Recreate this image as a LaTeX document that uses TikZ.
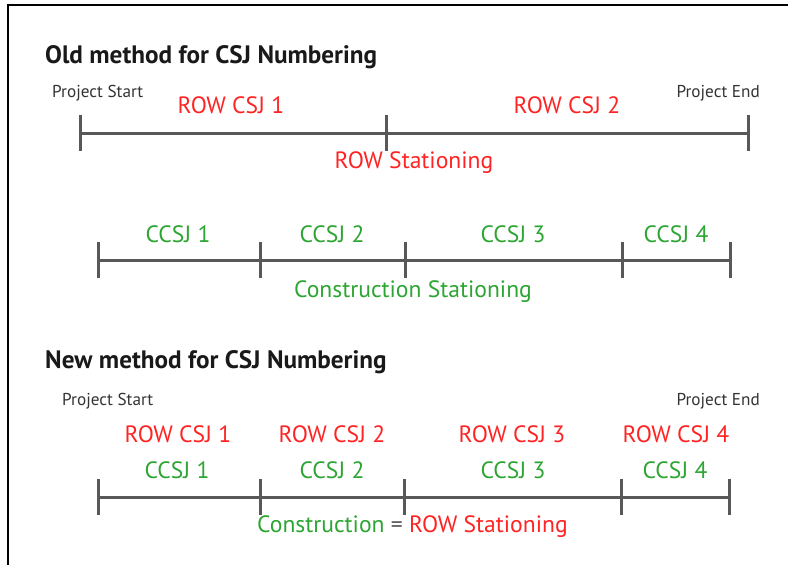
\documentclass[tikz,border=0pt]{standalone}
\usepackage{fontspec}
\setmainfont{PT Sans}
\definecolor{rowred}{RGB}{255,35,35}
\definecolor{cgreen}{RGB}{45,165,50}
\definecolor{linegray}{RGB}{88,88,88}
\begin{document}
\begin{tikzpicture}[x=1pt,y=-1pt,
  heading/.style={font=\fontsize{25.2}{29}\selectfont\bfseries, text=black!90, anchor=base west, inner sep=0pt},
  endlab/.style={font=\fontsize{17.2}{20}\selectfont, text=black!80, inner sep=0pt},
  rowlab/.style={font=\fontsize{23.6}{27}\selectfont, text=rowred, anchor=base, inner sep=0pt},
  clab/.style={font=\fontsize{23.6}{27}\selectfont, text=cgreen, anchor=base, inner sep=0pt},
  bar/.style={draw=linegray, line width=3pt},
  tickmark/.style={draw=linegray, line width=3pt},
  frame/.style={draw=black, line width=2.5pt}]
\useasboundingbox (0,0) rectangle (788,565);
% frame
\coordinate (f1) at (8,565);
\coordinate (f2) at (8,5);
\coordinate (f3) at (788,5);
\draw[frame] (f1) -- (f2) -- (f3);

% ---------------- Old method ----------------
\node[heading] (t1) at (45,63) {Old method for CSJ Numbering};
\node[endlab, anchor=base west] (ps1) at (52,97) {Project Start};
\node[endlab, anchor=base east] (pe1) at (760,97) {Project End};

\coordinate (r0) at (80,133);
\coordinate (r1) at (386,133);
\coordinate (r2) at (748,133);
\draw[bar] (r0) -- (r1) -- (r2);
\foreach \p in {r0,r1,r2}{\draw[tickmark] ([yshift=18pt]\p) -- ([yshift=-18pt]\p);}
\node[rowlab] (rc1) at (231,113) {ROW CSJ 1};
\node[rowlab] (rc2) at (567,113) {ROW CSJ 2};
\node[rowlab] (rst) at (414,168) {ROW Stationing};

\coordinate (c0) at (98,260);
\coordinate (c1) at (260,260);
\coordinate (c2) at (405,260);
\coordinate (c3) at (622,260);
\coordinate (c4) at (730,260);
\draw[bar] (c0) -- (c1) -- (c2) -- (c3) -- (c4);
\foreach \p in {c0,c1,c2,c3,c4}{\draw[tickmark] ([yshift=18pt]\p) -- ([yshift=-18pt]\p);}
\node[clab] (cc1) at (178,242) {CCSJ 1};
\node[clab] (cc2) at (332,242) {CCSJ 2};
\node[clab] (cc3) at (513,242) {CCSJ 3};
\node[clab] (cc4) at (676,242) {CCSJ 4};
\node[clab] (cst) at (413,297) {Construction Stationing};

% ---------------- New method ----------------
\node[heading] (t2) at (45,368) {New method for CSJ Numbering};
\node[endlab, anchor=base west] (ps2) at (62,405) {Project Start};
\node[endlab, anchor=base east] (pe2) at (760,405) {Project End};

\node[rowlab] (nr1) at (178,442) {ROW CSJ 1};
\node[rowlab] (nr2) at (332,442) {ROW CSJ 2};
\node[rowlab] (nr3) at (512,442) {ROW CSJ 3};
\node[rowlab] (nr4) at (676,442) {ROW CSJ 4};
\node[clab] (nc1) at (177,478) {CCSJ 1};
\node[clab] (nc2) at (332,478) {CCSJ 2};
\node[clab] (nc3) at (513,478) {CCSJ 3};
\node[clab] (nc4) at (675,478) {CCSJ 4};

\coordinate (n0) at (98,497);
\coordinate (n1) at (260,497);
\coordinate (n2) at (404,497);
\coordinate (n3) at (621,497);
\coordinate (n4) at (729,497);
\draw[bar] (n0) -- (n1) -- (n2) -- (n3) -- (n4);
\foreach \p in {n0,n1,n2,n3,n4}{\draw[tickmark] ([yshift=18pt]\p) -- ([yshift=-18pt]\p);}
\node[clab, anchor=base west] (ncs) at (257,532) {Construction \textcolor{linegray}{=} \textcolor{rowred}{ROW Stationing}};
\end{tikzpicture}
\end{document}
